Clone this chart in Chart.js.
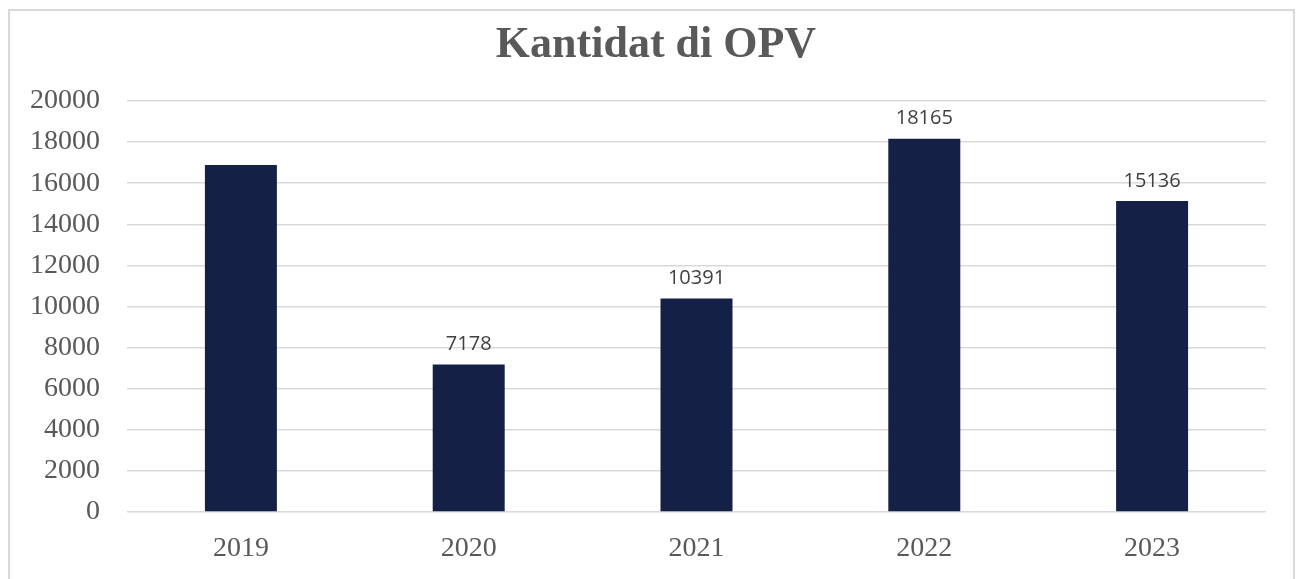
<!DOCTYPE html>
<html>
<head>
<meta charset="utf-8">
<script src="https://cdn.jsdelivr.net/npm/chart.js@4"></script>
<style>
    html, body { margin: 0; padding: 0; background: #fff; }
    #wrap { width: 1296px; height: 579px; position: relative; }
</style>
</head>
<body>
<div id="wrap"><canvas id="chart"></canvas></div>
<script>
const years = ['2019', '2020', '2021', '2022', '2023'];
const candidates = [16890, 7178, 10391, 18165, 15136];
// the 2019 bar carries no value label in the original
const labelShown = [false, true, true, true, true];
const yTicks = [0, 2000, 4000, 6000, 8000, 10000, 12000, 14000, 16000, 18000, 20000];

const textGrey = '#595959';
const barColor = '#142045';

// frame + title + value labels
const decorations = {
    id: 'decorations',
    beforeDraw(chart) {
        const ctx = chart.ctx;
        ctx.save();
        ctx.fillStyle = '#fff';
        ctx.fillRect(0, 0, chart.width, chart.height);
        ctx.strokeStyle = '#d9d9d9';
        ctx.lineWidth = 2;
        ctx.strokeRect(9, 10, 1285, 620);
        ctx.restore();
    },
    afterDatasetsDraw(chart) {
        const ctx = chart.ctx;
        ctx.save();
        ctx.fillStyle = textGrey;
        ctx.font = 'bold 44px "Liberation Serif"';
        ctx.textAlign = 'center';
        ctx.textBaseline = 'middle';
        ctx.fillText('Kantidat di OPV', 656, 46);

        ctx.fillStyle = '#404040';
        ctx.font = '20px "Open Sans"';
        ctx.textBaseline = 'bottom';
        chart.getDatasetMeta(0).data.forEach((bar, i) => {
            if (!labelShown[i]) return;
            ctx.fillText(String(candidates[i]), bar.x, bar.y - 10);
        });
        ctx.restore();
    }
};

new Chart(document.getElementById('chart'), {
    type: 'bar',
    data: {
        labels: years,
        datasets: [{
            label: 'Kantidat',
            data: candidates,
            backgroundColor: barColor,
            borderWidth: 0,
            categoryPercentage: 1,
            barPercentage: 0.316
        }]
    },
    options: {
        responsive: true,
        maintainAspectRatio: false,
        animation: false,
        layout: { padding: { top: 101, right: 30, left: 0, bottom: 0 } },
        plugins: {
            legend: { display: false },
            tooltip: { enabled: false },
            title: { display: false }
        },
        scales: {
            x: {
                grid: { display: false, drawTicks: false },
                border: { display: false },
                ticks: {
                    color: textGrey,
                    font: { family: 'Liberation Serif', size: 28 },
                    padding: 20
                },
                afterFit(scale) { scale.height = 67; }
            },
            y: {
                min: 0,
                max: 20000,
                afterBuildTicks(scale) { scale.ticks = yTicks.map(v => ({ value: v })); },
                grid: { color: '#d9d9d9', lineWidth: 1.5, drawTicks: false },
                border: { display: false },
                ticks: {
                    color: textGrey,
                    font: { family: 'Liberation Serif', size: 28 },
                    padding: 27,
                    callback: v => String(v)
                },
                afterFit(scale) { scale.width = 127; }
            }
        }
    },
    plugins: [decorations]
});
</script>
</body>
</html>
